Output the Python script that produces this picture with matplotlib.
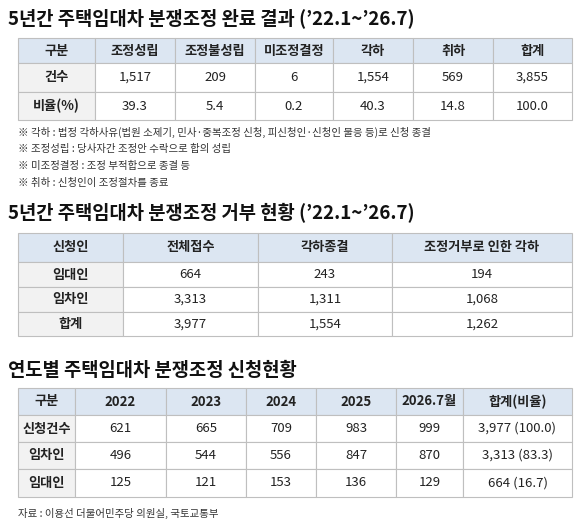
import matplotlib
matplotlib.use("Agg")
import matplotlib.pyplot as plt
from matplotlib.patches import Rectangle

plt.rcParams['font.family'] = ['Noto Sans CJK KR', 'DejaVu Sans']

W, H = 580, 530
HEAD = '#dce6f2'
SIDE = '#f2f2f2'
LINE = '#bfbfbf'

title1 = "5년간 주택임대차 분쟁조정 완료 결과 (’22.1~’26.7)"
t1_cols = ['구분', '조정성립', '조정불성립', '미조정결정', '각하', '취하', '합계']
t1_rows = [['건수', '1,517', '209', '6', '1,554', '569', '3,855'],
           ['비율(%)', '39.3', '5.4', '0.2', '40.3', '14.8', '100.0']]
notes = ['※ 각하 : 법정 각하사유(법원 소제기, 민사·중복조정 신청, 피신청인·신청인 불응 등)로 신청 종결',
         '※ 조정성립 : 당사자간 조정안 수락으로 합의 성립',
         '※ 미조정결정 : 조정 부적합으로 종결 등',
         '※ 취하 : 신청인이 조정절차를 종료']

title2 = "5년간 주택임대차 분쟁조정 거부 현황 (’22.1~’26.7)"
t2_cols = ['신청인', '전체접수', '각하종결', '조정거부로 인한 각하']
t2_rows = [['임대인', '664', '243', '194'],
           ['임차인', '3,313', '1,311', '1,068'],
           ['합계', '3,977', '1,554', '1,262']]

title3 = "연도별 주택임대차 분쟁조정 신청현황"
t3_cols = ['구분', '2022', '2023', '2024', '2025', '2026.7월', '합계(비율)']
t3_rows = [['신청건수', '621', '665', '709', '983', '999', '3,977 (100.0)'],
           ['임차인', '496', '544', '556', '847', '870', '3,313 (83.3)'],
           ['임대인', '125', '121', '153', '136', '129', '664 (16.7)']]
source = '자료 : 이용선 더불어민주당 의원실, 국토교통부'

fig = plt.figure(figsize=(5.8, 5.3), dpi=100)
ax = fig.add_axes([0, 0, 1, 1])
ax.set_xlim(0, W)
ax.set_ylim(H, 0)
ax.axis('off')


def draw_table(xs, ys, cols, rows, fs=9.5):
    for r in range(len(ys) - 1):
        for c in range(len(xs) - 1):
            fc = HEAD if r == 0 else (SIDE if c == 0 else 'white')
            ax.add_patch(Rectangle((xs[c], ys[r]), xs[c + 1] - xs[c], ys[r + 1] - ys[r],
                                   facecolor=fc, edgecolor=LINE, lw=0.8))
            txt = cols[c] if r == 0 else rows[r - 1][c]
            bold = r == 0 or c == 0
            ax.text((xs[c] + xs[c + 1]) / 2, (ys[r] + ys[r + 1]) / 2, txt,
                    ha='center', va='center', fontsize=fs, color='#222222',
                    fontweight='bold' if bold else 'normal')


ax.text(8, 18, title1, fontsize=13.5, fontweight='bold', va='center', color='#111111')
draw_table([18, 95, 175, 255, 333, 413, 493, 572], [38, 63, 92, 120], t1_cols, t1_rows)
for i, n in enumerate(notes):
    ax.text(18, 132 + i * 17, n, fontsize=7.5, va='center', color='#333333')

ax.text(8, 213, title2, fontsize=13.5, fontweight='bold', va='center', color='#111111')
draw_table([18, 123, 258, 392, 572], [233, 262, 287, 312, 336], t2_cols, t2_rows)

ax.text(8, 370, title3, fontsize=13.5, fontweight='bold', va='center', color='#111111')
draw_table([18, 75, 166, 246, 316, 396, 463, 572], [388, 415, 442, 469, 497], t3_cols, t3_rows)

ax.text(18, 513, source, fontsize=7.5, va='center', color='#333333')

fig.savefig('out.png', dpi=100)
